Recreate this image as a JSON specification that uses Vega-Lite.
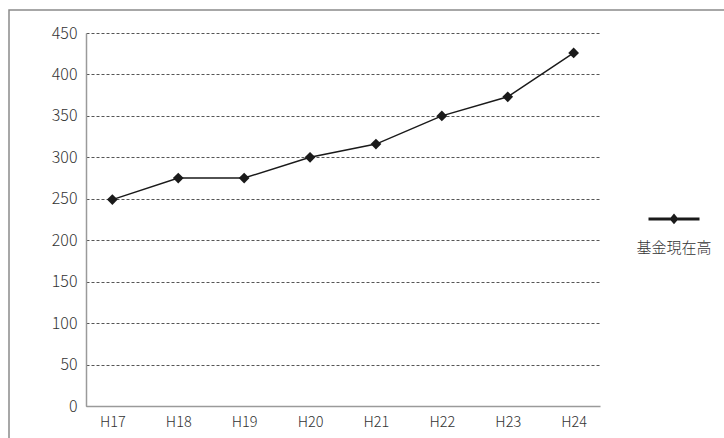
{
  "$schema": "https://vega.github.io/schema/vega-lite/v6.json",
  "description": "基金現在高 H17-H24",
  "width": 720,
  "height": 434,
  "autosize": {"type": "none"},
  "padding": {"left": 9, "top": 10, "right": 0, "bottom": 0},
  "background": "white",
  "data": {
    "values": [
      {"year": "H17", "value": 249, "series": "基金現在高"},
      {"year": "H18", "value": 275, "series": "基金現在高"},
      {"year": "H19", "value": 275, "series": "基金現在高"},
      {"year": "H20", "value": 300, "series": "基金現在高"},
      {"year": "H21", "value": 316, "series": "基金現在高"},
      {"year": "H22", "value": 350, "series": "基金現在高"},
      {"year": "H23", "value": 373, "series": "基金現在高"},
      {"year": "H24", "value": 426, "series": "基金現在高"}
    ]
  },
  "mark": {
    "type": "line",
    "strokeWidth": 1.5,
    "point": {"shape": "diamond", "filled": true, "size": 115}
  },
  "encoding": {
    "x": {
      "field": "year",
      "type": "nominal",
      "sort": null,
      "scale": {"type": "point", "range": [77, 591], "padding": 0.4},
      "axis": {
        "title": null,
        "labelAngle": 0,
        "ticks": false,
        "grid": false,
        "domainColor": "#9a9a9a",
        "domainWidth": 1.5,
        "labelPadding": 9,
        "labelFontSize": 14.5,
        "labelFontWeight": 300,
        "labelColor": "#333",
        "offset": -38
      }
    },
    "y": {
      "field": "value",
      "type": "quantitative",
      "scale": {"domain": [0, 450], "range": [396, 23], "nice": false},
      "axis": {
        "title": null,
        "values": [0, 50, 100, 150, 200, 250, 300, 350, 400, 450],
        "ticks": false,
        "domainColor": "#9a9a9a",
        "domainWidth": 1.5,
        "gridColor": "#555",
        "gridDash": [3, 2],
        "gridWidth": 1,
        "labelPadding": 9,
        "labelFontSize": 16,
        "labelFontWeight": 300,
        "labelColor": "#333",
        "offset": -77
      }
    },
    "color": {
      "field": "series",
      "type": "nominal",
      "scale": {"range": ["#1a1a1a"]},
      "legend": {
        "title": null,
        "orient": "none",
        "legendX": 638,
        "legendY": 187,
        "padding": 0,
        "symbolType": "M-1,-0.2L1,-0.2M-0.1,-0.2L0,-0.32L0.1,-0.2L0,-0.08Z",
        "symbolSize": 2601,
        "symbolStrokeWidth": 3,
        "symbolStrokeColor": "#1a1a1a",
        "symbolFillColor": "#1a1a1a",
        "labelExpr": "['', datum.label]",
        "labelBaseline": "top",
        "labelFontSize": 15,
        "labelFontWeight": 300,
        "labelColor": "#333",
        "labelAlign": "center",
        "labelOffset": -27,
        "encoding": {
          "symbols": {"update": {"fill": {"value": "#1a1a1a"}, "stroke": {"value": "#1a1a1a"}}}
        }
      }
    }
  },
  "config": {
    "font": "Noto Sans CJK JP",
    "view": {"stroke": "#8a8a8a", "strokeWidth": 1.5}
  }
}
